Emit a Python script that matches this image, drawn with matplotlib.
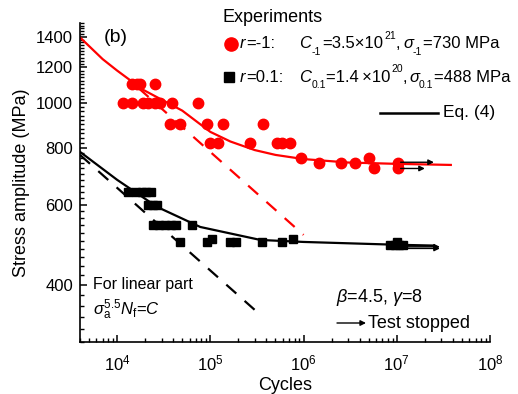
import math
import matplotlib
matplotlib.use("Agg")
import matplotlib.pyplot as plt
from matplotlib.ticker import FixedLocator, NullFormatter, FuncFormatter
from matplotlib.lines import Line2D

plt.rcParams['font.family'] = ['Liberation Sans', 'DejaVu Sans']
plt.rcParams['mathtext.fontset'] = 'custom'
plt.rcParams['mathtext.rm'] = 'Liberation Sans'
plt.rcParams['mathtext.it'] = 'Liberation Sans:italic'
plt.rcParams['mathtext.bf'] = 'Liberation Sans:bold'

# ---- data: r = -1 (red circles) ----
red_N = [11600, 14500, 14500, 16400, 17700, 19000, 21500, 25600, 25600, 29000,
         39000, 74300, 37100, 47500, 92900, 138000, 371000, 100000, 122000,
         269000, 525000, 594000, 724000, 929000, 1.45e6, 2.5e6, 3.6e6,
         5.0e6, 5.66e6, 1.03e7, 1.03e7]
red_S = [1000, 1000, 1100, 1100, 1100, 1000, 1000, 1000, 1100, 1000,
         1000, 1000, 900, 900, 900, 900, 900, 820, 820,
         820, 820, 820, 820, 760, 741, 741, 741,
         760, 722, 741, 722]

# ---- data: r = 0.1 (black squares) ----
blk_N = [13100, 16000, 18500, 20500, 23000,
         21600, 24400, 26900,
         24400, 28300, 32800, 38100, 43100, 64000,
         47500, 92900, 105000, 164000, 190000, 362000, 594000, 762000,
         8.4e6, 9.5e6, 1.05e7, 1.16e7, 1.0e7]
blk_S = [640, 640, 640, 640, 640,
         600, 600, 600,
         540, 540, 540, 540, 540, 540,
         497, 497, 505, 497, 497, 497, 497, 505,
         490, 490, 490, 490, 497]

# ---- Eq. (4) curves ----
red_fit_N = [4000, 7000, 10000, 19000, 50000, 1e5, 1.64e5, 3e5, 5e5, 1e6, 3e6, 1e7, 3.8e7]
red_fit_S = [1395, 1250, 1180, 1071, 964, 866, 825, 790, 771, 755, 742, 737, 733]
blk_fit_N = [4000, 1e4, 26900, 78000, 345000, 1e6, 1e7, 2.5e7]
blk_fit_S = [783, 680, 593, 536, 502, 497, 490, 488]

# ---- linear part (sigma^5.5 N = C) ----
red_lin_N = [17000, 1e6]
red_lin_S = [1080, 515]
blk_lin_N = [4000, 328000]
blk_lin_S = [771, 347]

# ---- test stopped arrows (start N, end N, stress) ----
arrow_start = [1.1e7, 1.1e7, 1.2e7, 1.2e7]
arrow_end = [2.5e7, 2.0e7, 2.9e7, 2.9e7]
arrow_S = [743, 720, 485, 481]

yticks_major = [400, 600, 800, 1000, 1200, 1400]
xticks_major = [1e4, 1e5, 1e6, 1e7, 1e8]

W, H = 518, 394
fig = plt.figure(figsize=(W / 100, H / 100), dpi=100)
ax = fig.add_axes([80 / W, 1 - 342 / H, 410 / W, 319 / H])
ax.set_xscale('log')
ax.set_yscale('log')
ax.set_xlim(4000, 1e8)
ax.set_ylim(300, 1500)

for s in ['top', 'right']:
    ax.spines[s].set_visible(False)
for s in ['left', 'bottom']:
    ax.spines[s].set_linewidth(1.2)

ax.yaxis.set_major_locator(FixedLocator(yticks_major))
ax.yaxis.set_minor_locator(FixedLocator([v for v in range(300, 1501, 20) if v not in yticks_major]))
ax.yaxis.set_major_formatter(FuncFormatter(lambda v, p: f"{int(v)}"))
ax.yaxis.set_minor_formatter(NullFormatter())
ax.xaxis.set_major_locator(FixedLocator(xticks_major))
minors = []
for d in [3, 4, 5, 6, 7]:
    for m in range(2, 10):
        v = m * 10 ** d
        if 4000 <= v <= 1e8:
            minors.append(v)
ax.xaxis.set_minor_locator(FixedLocator(minors))
ax.xaxis.set_major_formatter(FuncFormatter(lambda v, p: r"$10^{%d}$" % round(math.log10(v))))
ax.xaxis.set_minor_formatter(NullFormatter())
ax.tick_params(axis='y', which='major', direction='in', length=5, width=1.1, labelsize=12, pad=5)
ax.tick_params(axis='x', which='major', direction='in', length=5, width=1.1, labelsize=12, pad=8)
ax.tick_params(which='minor', direction='in', length=3, width=1.0)

# curves
ax.plot(red_fit_N, red_fit_S, color='red', lw=1.6, zorder=2)
ax.plot(blk_fit_N, blk_fit_S, color='black', lw=1.6, zorder=2)
ax.plot(red_lin_N, red_lin_S, color='red', lw=1.6, dashes=(6, 5), zorder=2)
ax.plot(blk_lin_N, blk_lin_S, color='black', lw=1.6, dashes=(6, 5), zorder=2)

# points
ax.plot(red_N, red_S, 'o', color='red', ms=7.5, mec='red', zorder=3, clip_on=False)
ax.plot(blk_N, blk_S, 's', color='black', ms=6.3, mec='black', zorder=3, clip_on=False)

for x0, x1, yv in zip(arrow_start, arrow_end, arrow_S):
    ax.annotate('', xy=(x1, yv), xytext=(x0, yv),
                arrowprops=dict(arrowstyle='-|>', color='black', lw=1.0,
                                mutation_scale=8, shrinkA=0, shrinkB=0), zorder=4)

ax.set_xlabel('Cycles', fontsize=13, labelpad=3)
ax.set_ylabel('Stress amplitude (MPa)', fontsize=13, labelpad=4)


def F(px, py):
    return px / W, 1 - py / H


def put(px, py, s, size=12, style='normal', ha='left'):
    fig.text(*F(px, py), s, fontsize=size, fontstyle=style, ha=ha, va='center')


SUB = 7.5
put(116, 37, '(b)', size=14, ha='center')
put(222, 17, 'Experiments', size=13)

# legend line 1
fig.add_artist(Line2D([231 / W], [1 - 44 / H], marker='o', color='red', ms=9.5, ls='none'))
put(240, 44, 'r', style='italic')
put(246, 44, '=-1:')
put(299, 44, 'C', style='italic')
put(312, 52, '-1', size=SUB)
put(322, 44, '=3.5\u00d710')
put(384, 36, '21', size=SUB)
put(396, 44, ',')
put(403, 44, '\u03c3', style='italic')
put(413, 52, '-1', size=SUB)
put(423, 44, '=730 MPa')

# legend line 2
fig.add_artist(Line2D([229 / W], [1 - 77 / H], marker='s', color='black', ms=6.5, ls='none'))
put(240, 77, 'r', style='italic')
put(246, 77, '=0.1:')
put(299, 77, 'C', style='italic')
put(312, 85, '0.1', size=SUB)
put(326, 77, '=1.4\u2009\u00d710')
put(391, 69, '20', size=SUB)
put(403, 77, ',')
put(409, 77, '\u03c3', style='italic')
put(419, 85, '0.1', size=SUB)
put(434, 77, '=488 MPa')

fig.add_artist(Line2D([380 / W, 438 / W], [1 - 113 / H, 1 - 113 / H], color='black', lw=1.8))
put(443, 113, 'Eq. (4)', size=12.5)

put(93, 285, 'For linear part', size=11.5)
fig.text(*F(93, 310), r'$\mathit{\sigma}_{\rm a}^{5.5}\mathit{N}_{\rm f}$=$\mathit{C}$', fontsize=12,
         ha='left', va='center')
fig.text(*F(336, 297), r'$\mathit{\beta}$=4.5, $\mathit{\gamma}$=8', fontsize=13, ha='left', va='center')
ax.annotate('', xy=F(366, 323), xytext=F(337, 323), xycoords='figure fraction',
            textcoords='figure fraction',
            arrowprops=dict(arrowstyle='-|>', color='black', lw=1.0, mutation_scale=8,
                            shrinkA=0, shrinkB=0))
put(368, 323, 'Test stopped', size=13)

fig.savefig('out.png', dpi=100)
